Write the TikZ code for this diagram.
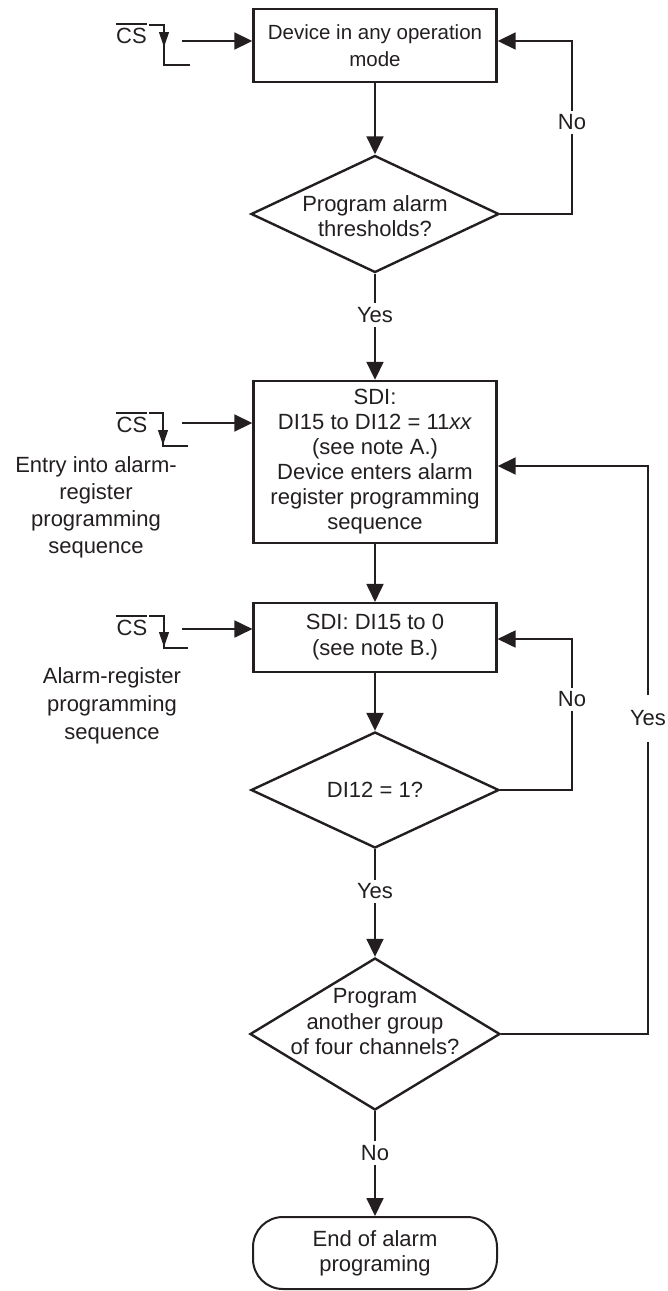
\documentclass[tikz,border=0pt]{standalone}
\usepackage{fontspec}
\setmainfont{Liberation Sans}
\usetikzlibrary{shapes.geometric,arrows.meta,calc}
\definecolor{ink}{HTML}{231F20}
\begin{document}
\begin{tikzpicture}[x=1pt,y=-1pt,
  every node/.style={text=ink},
  txt/.style={font=\fontsize{22}{25}\selectfont, align=center, inner sep=0pt},
  procbox/.style={draw=ink, line width=2.4pt, minimum width=243pt, inner sep=0pt, txt},
  decis/.style={draw=ink, line width=2.4pt, diamond, inner sep=0pt, minimum width=248pt},
  termbox/.style={draw=ink, line width=2pt, rounded corners=30pt, minimum width=244pt, minimum height=72pt, txt},
  flow/.style={draw=ink, line width=1.8pt, -{Triangle[length=18pt,width=17pt]}},
  lbl/.style={txt, fill=white, inner xsep=2pt, inner ysep=4pt},
  wave/.style={draw=ink, line width=1.1pt},
  wavetip/.style={draw=ink, line width=1.1pt, -{Triangle[length=15pt,width=10pt]}},
]
\useasboundingbox (0,0) rectangle (667,1291);

% main column
\node[procbox, minimum height=73pt, font=\fontsize{20.5}{27}\selectfont] (box1) at (375,45.5) {Device in any operation\\mode};
\node[decis, minimum height=117pt] (d1) at (375,214) {};
\node[txt] (d1t) at (375,216) {Program alarm\\thresholds?};
\node[procbox, minimum height=162pt] (box2) at (375,462) {SDI:\\DI15 to DI12 = 11\textit{xx}\\(see note A.)\\Device enters alarm\\register programming\\sequence};
\node[procbox, minimum height=69pt, line width=2.1pt, font=\fontsize{22}{26}\selectfont] (box3) at (375,637.5) {SDI: DI15 to 0\\(see note B.)};
\node[decis, minimum height=116pt] (d2) at (375,790) {};
\node[txt] (d2t) at (375,790) {DI12 = 1?};
\node[decis, minimum width=250pt, minimum height=152pt] (d3) at (375,1034) {};
\node[txt, font=\fontsize{22}{25.5}\selectfont] (d3t) at (375,1022) {Program\\another group\\of four channels?};
\node[termbox] (term) at (375,1253) {End of alarm\\programing};

% side texts
\node[txt, font=\fontsize{22}{27}\selectfont] (lt1) at (96,507) {Entry into alarm-\\register\\programming\\sequence};
\node[txt, font=\fontsize{22}{28}\selectfont] (lt2) at (112,706) {Alarm-register\\programming\\sequence};

% CS signals
\node[txt] (cs1) at (131.5,36) {CS};
\draw[wave] (116,24) -- (147,24);
\draw[wave] (149,25) -- (164,25) -- (164,65) -- (190,65);
\draw[wavetip] (164,30) -- (164,47);
\coordinate (c1a) at (182,41);
\draw[flow] (c1a) -- (c1a -| box1.west);

\node[txt] (cs2) at (132,425) {CS};
\draw[wave] (116,413) -- (147,413);
\draw[wave] (149,413) -- (163,413) -- (163,446) -- (188,446);
\draw[wavetip] (163,420) -- (163,445);
\coordinate (c2a) at (182,423);
\draw[flow] (c2a) -- (c2a -| box2.west);

\node[txt] (cs3) at (132,628) {CS};
\draw[wave] (116,616) -- (147,616);
\draw[wave] (149,616) -- (164,616) -- (164,648) -- (188,648);
\draw[wavetip] (164,622) -- (164,647);
\coordinate (c3a) at (182,629);
\draw[flow] (c3a) -- (c3a -| box3.west);

% main flow
\draw[flow] (box1.south) -- (d1.north);
\draw[flow] (d1.south) -- node[lbl, pos=0.39] {Yes} (box2.north);
\draw[flow] (box2.south) -- (box3.north);
\draw[flow] (box3.south) -- (d2.north);
\draw[flow] (d2.south) -- node[lbl, pos=0.39] {Yes} (d3.north);
\draw[flow] (d3.south) -- node[lbl, pos=0.40] {No} (term.north);

% loops
\coordinate (r1) at (572,214);
\coordinate (r1t) at (572,41);
\draw[flow] (d1.east) -- (r1) -- node[lbl, pos=0.53] {No} (r1t) -- (r1t -| box1.east);

\coordinate (r2) at (572,790);
\coordinate (r2t) at (572,639);
\draw[flow] (d2.east) -- (r2) -- node[lbl, pos=0.60] {No} (r2t) -- (r2t -| box3.east);

\coordinate (r3) at (648,1034);
\coordinate (r3t) at (648,466);
\draw[flow] (d3.east) -- (r3) -- node[lbl, pos=0.556, inner ysep=16pt, inner xsep=1pt] {Yes} (r3t) -- (r3t -| box2.east);
\end{tikzpicture}
\end{document}
